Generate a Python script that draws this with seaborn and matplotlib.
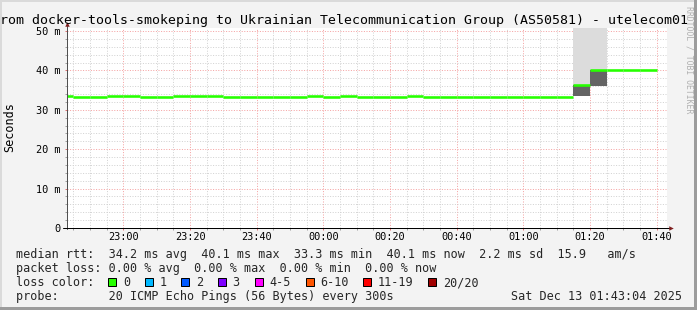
import numpy as np
import pandas as pd
import seaborn as sns
import matplotlib
matplotlib.use("Agg")
import matplotlib.pyplot as plt
from matplotlib.patches import Rectangle
from matplotlib.lines import Line2D

# ---------------- data ----------------
title_text = "rom docker-tools-smokeping to Ukrainian Telecommunication Group (AS50581) - utelecom01"
start_time = "22:43:04"
end_time = "01:43:04"

bin_ends = ["22:45", "22:50", "22:55", "23:00", "23:05", "23:10", "23:15", "23:20", "23:25",
            "23:30", "23:35", "23:40", "23:45", "23:50", "23:55", "00:00", "00:05", "00:10",
            "00:15", "00:20", "00:25", "00:30", "00:35", "00:40", "00:45", "00:50", "00:55",
            "01:00", "01:05", "01:10", "01:15", "01:20", "01:25", "01:30", "01:35", "01:40"]
median_ms = [33.5, 33.35, 33.35, 33.5, 33.5, 33.35, 33.35, 33.5, 33.5,
             33.5, 33.35, 33.35, 33.35, 33.35, 33.35, 33.5, 33.35, 33.5,
             33.35, 33.35, 33.35, 33.5, 33.35, 33.35, 33.35, 33.35, 33.35,
             33.35, 33.35, 33.35, 33.35, 36.2, 40.1, 40.1, 40.1, 40.1]
nan = np.nan
smoke_low_ms = [nan] * 31 + [33.4, 36.0, nan, nan, nan]
smoke_high_ms = [nan] * 31 + [60.0, 60.0, nan, nan, nan]

x_tick_labels = ["23:00", "23:20", "23:40", "00:00", "00:20", "00:40", "01:00", "01:20", "01:40"]
y_tick_values = [0, 10, 20, 30, 40, 50]
y_tick_labels = ["0", "10 m", "20 m", "30 m", "40 m", "50 m"]
y_label = "Seconds"

rtt_values = ["34.2", "40.1", "33.3", "40.1"]
rtt_names = ["avg", "max", "min", "now"]
rtt_sd = "2.2"
rtt_ams = "15.9"
loss_values = ["0.00", "0.00", "0.00", "0.00"]
loss_names = ["avg", "max", "min", "now"]
loss_labels = ["0", "1", "2", "3", "4-5", "6-10", "11-19", "20/20"]
loss_colors = ["#26ff00", "#00b8ff", "#0059ff", "#7e00ff", "#ff00ff", "#ff5500", "#ff0000", "#a10000"]
probe_text = "20 ICMP Echo Pings (56 Bytes) every 300s"
date_text = "Sat Dec 13 01:43:04 2025"
watermark = "RRDTOOL / TOBI OETIKER"


def to_min(s):
    parts = [int(p) for p in s.split(":")]
    m = parts[0] * 60 + parts[1] + (parts[2] / 60 if len(parts) > 2 else 0)
    if parts[0] < 12:
        m += 24 * 60
    return m


# ---------------- style ----------------
sns.set_theme(style="white")
MONO = "DejaVu Sans Mono"
plt.rcParams["font.family"] = [MONO, "DejaVu Sans"]

W, H = 697, 310
BG = "#f3f3f3"
fig = plt.figure(figsize=(W / 100, H / 100), dpi=100)
fig.patch.set_facecolor(BG)

def fx(x):
    return x / W

def fy(y):
    return 1 - y / H

PX = 0.72  # points per pixel

ax = fig.add_axes([fx(67), fy(228), 600 / W, 200 / H])
ax.set_facecolor("white")

x0 = to_min(start_time)
x1 = to_min(end_time)
ax.set_xlim(x0, x1)
ax.set_ylim(0, 50.76)

ends = np.array([to_min(b) for b in bin_ends])
starts = ends - 5

# smoke
for s, e, lo, hi, med in zip(starts, ends, smoke_low_ms, smoke_high_ms, median_ms):
    if np.isnan(lo):
        continue
    ax.fill_between([s, e], [med, med], [hi, hi], color="#dcdcdc", lw=0, zorder=2)
    ax.fill_between([s, e], [lo, lo], [med, med], color="#646464", lw=0, zorder=3)

# median line (one horizontal segment per 5-minute bin)
df = pd.DataFrame({
    "t": np.concatenate([starts, ends]),
    "ms": np.concatenate([median_ms, median_ms]),
    "bin": np.concatenate([np.arange(len(ends)), np.arange(len(ends))]),
})
sns.lineplot(data=df, x="t", y="ms", units="bin", estimator=None, color=loss_colors[0],
             lw=2.6 * PX, solid_capstyle="butt", legend=False, ax=ax, zorder=4)

# grid
major_x = [to_min(t) for t in x_tick_labels]
minor_x = np.arange(to_min("22:45"), x1, 5)
ax.set_xticks(major_x)
ax.set_xticklabels(x_tick_labels)
ax.set_xticks(minor_x, minor=True)
ax.set_yticks(y_tick_values)
ax.set_yticklabels(y_tick_labels)
ax.set_yticks(np.arange(0, 51, 2), minor=True)
ax.grid(which="major", color="#f5a3a3", linestyle=(0, (1, 1.6)), lw=1 * PX, zorder=1)
ax.grid(which="minor", color="#d2d2d2", linestyle=(0, (1, 1.6)), lw=1 * PX, zorder=0.9)
ax.set_axisbelow(True)
ax.set_xlabel("")
ax.set_ylabel("")
for sp in ax.spines.values():
    sp.set_visible(False)

ax.tick_params(axis="both", which="major", length=2 * PX, width=1 * PX, color="#e07070",
               labelsize=7.4, labelcolor="black", direction="out")
ax.tick_params(axis="both", which="minor", length=2 * PX, width=1 * PX, color="#a0a0a0",
               direction="out")
ax.tick_params(axis="x", which="major", pad=2.2 * PX)
ax.tick_params(axis="y", which="major", pad=4.3 * PX)
ax.xaxis.set_ticks_position("bottom")
ax.yaxis.set_ticks_position("left")
for lab in ax.get_xticklabels() + ax.get_yticklabels():
    lab.set_family(MONO)

# axis lines and arrows
fig.add_artist(Line2D([fx(67), fx(67)], [fy(229), fy(23)], color="#505050", lw=1 * PX))
fig.add_artist(Line2D([fx(63), fx(670)], [fy(228), fy(228)], color="black", lw=1 * PX))
fig.add_artist(Line2D([fx(67)], [fy(24)], marker="^", markersize=4.5 * PX, color="#7f1f1f",
                      markeredgewidth=0))
fig.add_artist(Line2D([fx(671)], [fy(228)], marker=">", markersize=4.5 * PX, color="#7f1f1f",
                      markeredgewidth=0))

# title, unit label, watermark
fig.text(fx(-0.5), fy(24), title_text, family=MONO, size=9.55, ha="left", va="baseline",
         color="black")
fig.text(fx(10), fy(127), y_label, family=MONO, size=8.5, rotation=90, ha="center",
         va="center", color="black")
fig.text(fx(689), fy(60), watermark, family=MONO, size=5.85, rotation=270, ha="center",
         va="center", color="#b0b0b0")

# legend text
LX = 15.5
line1 = "median rtt:  " + "  ".join(f"{v} ms {n}" for v, n in zip(rtt_values, rtt_names)) \
        + f"  {rtt_sd} ms sd  {rtt_ams}   am/s"
line2 = "packet loss: " + "  ".join(f"{v} % {n}" for v, n in zip(loss_values, loss_names))
line4 = "probe:       " + probe_text
fig.text(fx(LX), fy(258), line1, family=MONO, size=8.5, ha="left", va="baseline")
fig.text(fx(LX), fy(272), line2, family=MONO, size=8.5, ha="left", va="baseline")
fig.text(fx(LX), fy(286), "loss color:", family=MONO, size=8.5, ha="left", va="baseline")
fig.text(fx(LX), fy(300), line4, family=MONO, size=8.5, ha="left", va="baseline")
fig.text(fx(682), fy(300), date_text, family=MONO, size=8.5, ha="right", va="baseline")

CW = 7.1
bx = 108.3
for lab, col in zip(loss_labels, loss_colors):
    fig.add_artist(Rectangle((fx(bx), fy(286)), 8 / W, 8 / H, facecolor=col,
                             edgecolor="black", lw=1 * PX))
    fig.text(fx(bx + 14.5), fy(286), lab, family=MONO, size=8.5, ha="left", va="baseline")
    bx = bx + 14.5 + len(lab) * CW + 15

# 3D frame
fig.add_artist(Rectangle((0, fy(2)), 1, 2 / H, facecolor="#dadada", lw=0))
fig.add_artist(Rectangle((0, 0), 2 / W, 1, facecolor="#dadada", lw=0))
fig.add_artist(Rectangle((0, 0), 1, 3 / H, facecolor="#9c9c9c", lw=0))
fig.add_artist(Rectangle((fx(694), 0), 3 / W, 1, facecolor="#9c9c9c", lw=0))

fig.savefig("out.png", dpi=100, facecolor=BG)
